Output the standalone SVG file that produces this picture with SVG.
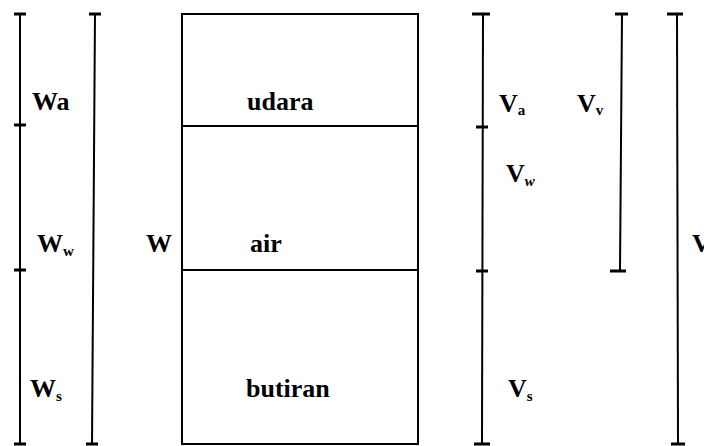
<svg xmlns="http://www.w3.org/2000/svg" width="704" height="446" viewBox="0 0 704 446">
<style>
.l{stroke:#000;stroke-width:2;fill:none}
.t{stroke:#000;stroke-width:3;fill:none}
text{font-family:"Liberation Serif","Times New Roman",serif;font-size:26px;font-weight:bold;fill:#000}
.s{font-size:15px}
</style>
<rect width="704" height="446" fill="#fff"/>
<g id="connectors">
<line class="l" x1="20" y1="14" x2="20" y2="444"/>
<line class="t" x1="14" y1="14" x2="26" y2="14"/>
<line class="t" x1="14" y1="125" x2="26" y2="125"/>
<line class="t" x1="14" y1="270" x2="26" y2="270"/>
<line class="t" x1="14" y1="444" x2="26" y2="444"/>
<line class="l" x1="95" y1="14" x2="92" y2="444"/>
<line class="t" x1="89" y1="14" x2="101" y2="14"/>
<line class="t" x1="86" y1="444" x2="98" y2="444"/>
<line class="l" x1="483" y1="14" x2="482" y2="444"/>
<line class="t" x1="472" y1="14" x2="490" y2="14"/>
<line class="t" x1="476" y1="127" x2="488" y2="127"/>
<line class="t" x1="476" y1="271" x2="488" y2="271"/>
<line class="t" x1="474" y1="444" x2="490" y2="444"/>
<line class="l" x1="622" y1="14" x2="620" y2="271"/>
<line class="t" x1="615" y1="14" x2="628" y2="14"/>
<line class="t" x1="610" y1="271" x2="626" y2="271"/>
<line class="l" x1="677" y1="14" x2="678" y2="444"/>
<line class="t" x1="667" y1="14" x2="683" y2="14"/>
<line class="t" x1="671" y1="444" x2="685" y2="444"/>
</g>
<g id="box">
<rect class="l" x="182" y="14" width="236" height="430"/>
<line class="l" x1="182" y1="126" x2="418" y2="126"/>
<line class="l" x1="182" y1="270" x2="418" y2="270"/>
</g>
<g id="udara"><text x="247" y="110">udara</text></g>
<g id="air"><text x="250" y="252">air</text></g>
<g id="butiran"><text x="246" y="397">butiran</text></g>
<g id="Wa"><text x="32" y="110">Wa</text></g>
<g id="Ww"><text x="37" y="252">W<tspan class="s" dy="4">w</tspan></text></g>
<g id="Ws"><text x="30" y="397">W<tspan class="s" dy="4">s</tspan></text></g>
<g id="W"><text x="146" y="252">W</text></g>
<g id="Va"><text x="499" y="112">V<tspan class="s" dy="3">a</tspan></text></g>
<g id="Vv"><text x="577" y="112">V<tspan class="s" dy="3">v</tspan></text></g>
<g id="Vw"><text x="506" y="182">V<tspan class="s" dy="4" font-style="italic">w</tspan></text></g>
<g id="Vs"><text x="508" y="397">V<tspan class="s" dy="4">s</tspan></text></g>
<g id="V"><text x="692" y="252">V</text></g>
</svg>
